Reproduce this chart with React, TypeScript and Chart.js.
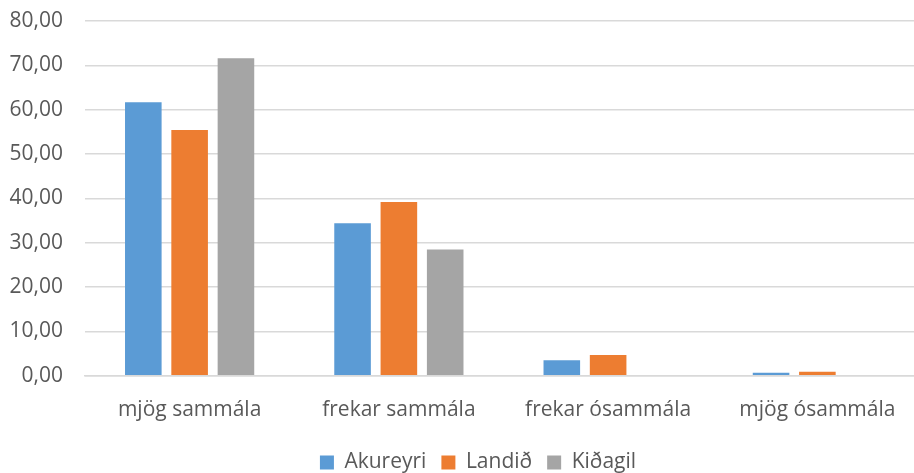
import React, { useEffect, useRef } from "react";
import { Chart, registerables } from "chart.js";

Chart.register(...registerables);

const categories = ["mjög sammála", "frekar sammála", "frekar ósammála", "mjög ósammála"];
const akureyri = [61.7, 34.4, 3.5, 0.7];
const landid = [55.4, 39.2, 4.7, 0.9];
const kidagil = [71.6, 28.5, 0, 0];
const seriesNames = ["Akureyri", "Landið", "Kiðagil"];
const seriesColors = ["#5B9BD5", "#ED7D31", "#A5A5A5"];

const legendShift = {
  id: "legendShift",
  afterLayout(chart: any) {
    const l = chart.legend;
    if (l) {
      l.left += 13;
      l.right += 13;
    }
  },
};

export default function App() {
  const ref = useRef<HTMLCanvasElement>(null);
  useEffect(() => {
    if (!ref.current) return;
    const font = { family: "'Open Sans', sans-serif", size: 21 };
    const chart = new Chart(ref.current, {
      type: "bar",
      data: {
        labels: categories,
        datasets: [akureyri, landid, kidagil].map((d, i) => ({
          label: seriesNames[i],
          data: d,
          backgroundColor: seriesColors[i],
          borderWidth: 0,
          barPercentage: 0.79,
          categoryPercentage: 0.664,
        })),
      },
      options: {
        animation: false,
        responsive: false,
        maintainAspectRatio: false,
        layout: { padding: { left: 8, right: 0, top: 0, bottom: -10 } },
        plugins: {
          tooltip: { enabled: false },
          legend: {
            position: "bottom",
            labels: {
              font,
              color: "#595959",
              boxWidth: 14,
              boxHeight: 14,
              padding: 15,
            },
          },
        },
        scales: {
          x: {
            grid: { display: false, drawTicks: false },
            border: { display: true, color: "#D9D9D9", width: 1.5 },
            ticks: { font, color: "#595959", padding: 22 },
            afterFit: (s: any) => {
              s.height -= 8;
            },
          },
          y: {
            min: 0,
            max: 80,
            grid: { color: "#D9D9D9", lineWidth: 1.5, drawTicks: false },
            border: { display: false },
            ticks: {
              stepSize: 10,
              font,
              color: "#595959",
              padding: 22,
              callback: (v: any) => Number(v).toFixed(2).replace(".", ","),
            },
            afterFit: (s: any) => {
              s.width = 77;
              s.paddingTop = 21;
              s.paddingBottom = 0;
            },
          },
        },
      },
      plugins: [legendShift],
    });
    return () => chart.destroy();
  }, []);
  return (
    <div style={{ position: "fixed", left: 0, top: 0, width: 914, height: 473, background: "#fff", overflow: "hidden" }}>
      <canvas ref={ref} width={922} height={473} style={{ width: 922, height: 473, display: "block" }} />
    </div>
  );
}
